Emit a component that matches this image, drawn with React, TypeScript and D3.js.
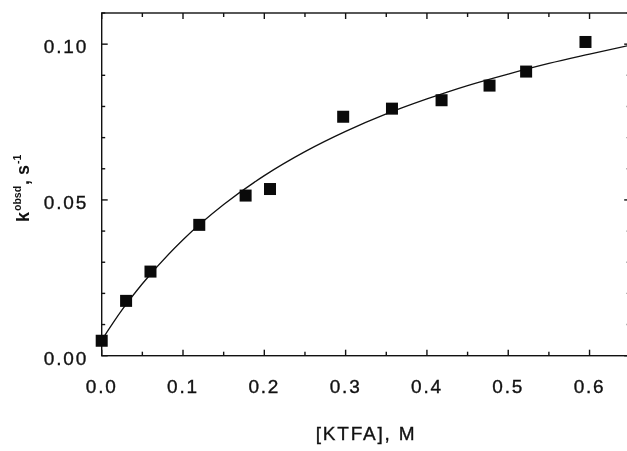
import { useEffect, useRef } from "react";
import * as d3 from "d3";

// measured points: [KTFA] (M) vs k_obsd (s^-1)
const concKTFA = [0, 0.03, 0.06, 0.12, 0.177, 0.207, 0.297, 0.357, 0.418, 0.477, 0.522, 0.595];
const kObsd = [0.0048, 0.0176, 0.027, 0.042, 0.0514, 0.0535, 0.0767, 0.0793, 0.082, 0.0867, 0.0912, 0.1007];

// fitted curve
const curveX = [0, 0.025, 0.05, 0.1, 0.15, 0.2, 0.25, 0.3, 0.35, 0.4, 0.45, 0.5, 0.55, 0.6, 0.65];
const curveY = [0.005, 0.0147, 0.0231, 0.0372, 0.0485, 0.0578, 0.0655, 0.072, 0.0776, 0.0824, 0.0867, 0.0904, 0.0938, 0.0968, 0.0997];

const xTicks = [0, 0.1, 0.2, 0.3, 0.4, 0.5, 0.6];
const yTicks = [0, 0.05, 0.1];

const FONT = "'Liberation Sans', Arial, Helvetica, sans-serif";

function Chart() {
  const ref = useRef<SVGSVGElement>(null);

  useEffect(() => {
    const svg = d3.select(ref.current);
    svg.selectAll("*").remove();

    const width = 627;
    const height = 451;
    const left = 101.7, right = 630.2, top = 13, bottom = 355.7;

    const x = d3.scaleLinear().domain([0, 0.65]).range([left, right]);
    const y = d3.scaleLinear().domain([0, 0.11]).range([bottom, top]);

    svg.attr("width", width).attr("height", height);

    const g = svg.append("g").attr("stroke", "#111").attr("stroke-width", 1.4);

    // frame
    g.append("rect")
      .attr("x", left)
      .attr("y", top)
      .attr("width", right - left)
      .attr("height", bottom - top)
      .attr("fill", "none");

    // x ticks (bottom + top, inward)
    const xMinor = d3.range(0, 0.651, 0.05);
    xMinor.forEach((v, i) => {
      const len = i % 2 === 0 ? 6 : 4;
      g.append("line").attr("x1", x(v)).attr("x2", x(v)).attr("y1", bottom).attr("y2", bottom - len);
      g.append("line").attr("x1", x(v)).attr("x2", x(v)).attr("y1", top).attr("y2", top + len);
    });

    // y ticks (left + right, inward)
    const yMinor = d3.range(0, 0.1101, 0.01);
    yMinor.forEach((v, i) => {
      const len = i % 5 === 0 ? 6 : 3.5;
      g.append("line").attr("x1", left).attr("x2", left + len).attr("y1", y(v)).attr("y2", y(v));
      g.append("line").attr("x1", right).attr("x2", right - len).attr("y1", y(v)).attr("y2", y(v));
    });

    const labels = svg
      .append("g")
      .attr("font-family", FONT)
      .attr("font-size", 19)
      .attr("fill", "#111")
      .attr("stroke", "#111")
      .attr("stroke-width", 0.35);

    labels
      .selectAll("text.xt")
      .data(xTicks)
      .join("text")
      .attr("class", "xt")
      .attr("x", (d) => x(d))
      .attr("y", bottom + 37.5)
      .attr("text-anchor", "middle")
      .attr("letter-spacing", 1.8)
      .text((d) => d.toFixed(1));

    labels
      .selectAll("text.yt")
      .data(yTicks)
      .join("text")
      .attr("class", "yt")
      .attr("x", 88)
      .attr("y", (d) => y(d) + 9)
      .attr("text-anchor", "end")
      .attr("letter-spacing", 1.8)
      .text((d) => d.toFixed(2));

    labels
      .append("text")
      .attr("x", 366)
      .attr("y", 440)
      .attr("text-anchor", "middle")
      .attr("letter-spacing", 1.8)
      .text("[KTFA], M");

    // y axis title, rotated
    const yt = svg
      .append("text")
      .attr("transform", "translate(29,222) rotate(-90)")
      .attr("font-family", FONT)
      .attr("font-size", 18)
      .attr("font-weight", "bold")
      .attr("fill", "#111");
    yt.append("tspan").text("k");
    yt.append("tspan").attr("font-size", 10.5).attr("dy", -8).attr("dx", 1).text("obsd");
    yt.append("tspan").attr("dy", 8).attr("dx", 1).text(", s");
    yt.append("tspan").attr("font-size", 10.5).attr("dy", -8).attr("dx", 1).text("-1");

    // clip to plot area
    svg
      .append("clipPath")
      .attr("id", "plotclip")
      .append("rect")
      .attr("x", left)
      .attr("y", top)
      .attr("width", right - left)
      .attr("height", bottom - top);

    const line = d3
      .line<number>()
      .x((d) => x(d))
      .y((_, i) => y(curveY[i]))
      .curve(d3.curveMonotoneX);

    svg
      .append("path")
      .datum(curveX)
      .attr("clip-path", "url(#plotclip)")
      .attr("d", line)
      .attr("fill", "none")
      .attr("stroke", "#111")
      .attr("stroke-width", 1.3);

    const s = 12;
    svg
      .append("g")
      .selectAll("rect")
      .data(concKTFA)
      .join("rect")
      .attr("x", (d) => x(d) - s / 2)
      .attr("y", (_, i) => y(kObsd[i]) - s / 2)
      .attr("width", s)
      .attr("height", s)
      .attr("fill", "#0a0a0a");
  }, []);

  return <svg ref={ref} style={{ position: "fixed", left: 0, top: 0 }}></svg>;
}

export default function App() {
  return <Chart />;
}
